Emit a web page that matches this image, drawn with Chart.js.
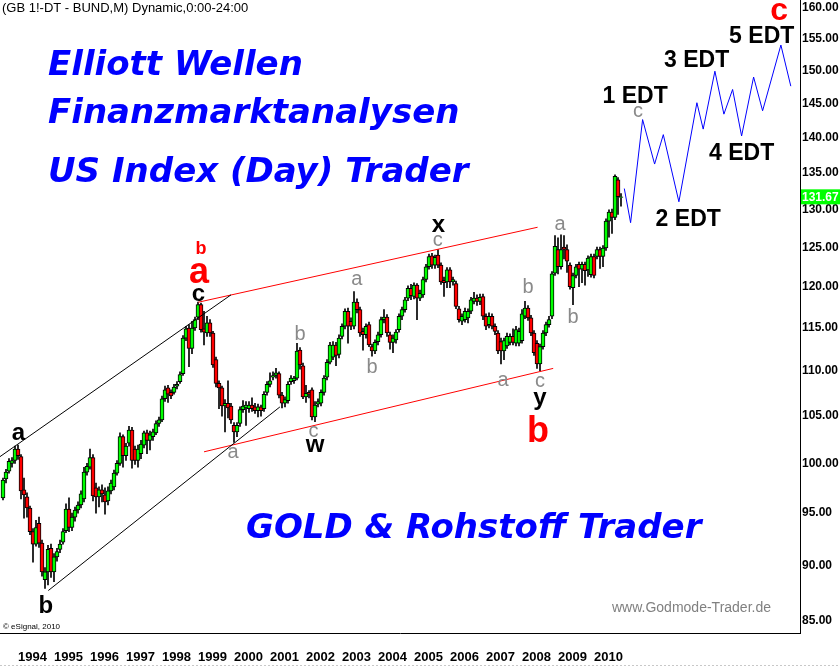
<!DOCTYPE html>
<html>
<head>
<meta charset="utf-8">
<title>Bund monthly - Elliott Wellen</title>
<script src="https://cdn.jsdelivr.net/npm/chart.js@4.4.1/dist/chart.umd.min.js"></script>
<style>
    html, body { margin: 0; padding: 0; background: #fff; }
    #wrap { width: 840px; height: 666px; }
</style>
</head>
<body>
<div id="wrap"><canvas id="bundChart" width="840" height="666"></canvas></div>
<script>
// months are counted from Jan 1993, first candle = Aug 1993
const firstMonth = 7;

const opens = [
    96.5, 98.4, 99.2, 100.0, 100.3, 101.5, 100.7, 97.3, 96.6, 95.5, 93.2, 92.0,
    94.0, 92.1, 88.7, 89.4, 91.6, 89.4, 90.8, 91.5, 92.2, 93.3, 95.4, 93.6,
    94.6, 95.3, 95.8, 96.4, 99.1, 99.6, 100.6, 97.5, 96.6, 97.3, 96.8, 96.2,
    97.2, 97.6, 99.0, 100.0, 102.8, 100.8, 102.1, 103.5, 101.5, 100.3, 101.0, 101.9,
    103.2, 102.4, 102.8, 103.2, 104.2, 104.6, 106.9, 108.1, 107.6, 107.6, 108.3, 108.8,
    109.7, 113.8, 115.0, 112.6, 115.0, 116.3, 117.8, 114.9, 114.4, 115.6, 114.4, 111.3,
    108.6, 108.1, 106.1, 106.4, 106.1, 104.0, 103.3, 104.2, 105.7, 105.9, 105.8, 106.2,
    106.0, 105.6, 106.0, 105.8, 107.6, 108.5, 109.3, 109.5, 109.7, 107.3, 106.4, 106.7,
    108.8, 108.9, 109.2, 112.4, 110.6, 107.1, 107.6, 107.9, 104.9, 106.3, 106.4, 107.6,
    109.3, 111.0, 111.6, 113.0, 111.9, 114.0, 115.2, 117.0, 115.8, 115.2, 118.1, 117.2,
    114.6, 114.2, 115.4, 112.8, 112.3, 113.4, 114.2, 116.0, 116.3, 114.2, 113.3, 113.6,
    114.8, 116.4, 117.2, 118.6, 119.8, 118.8, 120.2, 118.6, 119.0, 120.9, 122.5, 123.9,
    122.7, 124.0, 122.7, 120.8, 120.6, 122.1, 120.6, 120.4, 117.3, 115.8, 116.0, 116.2,
    117.0, 118.2, 118.6, 118.2, 118.8, 116.4, 115.4, 116.4, 115.2, 114.4, 113.4, 112.3,
    112.9, 113.3, 114.0, 113.2, 113.2, 113.5, 116.4, 117.4, 116.2, 114.4, 113.2, 110.8,
    112.8, 114.4, 115.4, 116.4, 121.7, 124.7, 122.5, 125.0, 124.7, 122.7, 119.9, 121.4,
    122.8, 122.2, 122.8, 122.1, 121.5, 123.8, 123.8, 124.7, 123.8, 124.9, 128.4, 129.6,
    128.9, 134.0, 131.6
];
const highs = [
    98.5, 99.4, 100.5, 100.6, 101.8, 101.9, 100.9, 98.5, 97.0, 95.7, 93.5, 94.3,
    94.6, 92.4, 89.8, 91.9, 92.0, 91.1, 91.6, 92.4, 93.5, 95.9, 96.5, 95.0,
    95.6, 96.1, 97.2, 99.6, 100.0, 101.5, 100.9, 98.0, 97.6, 97.8, 97.5, 97.6,
    98.3, 99.3, 100.3, 103.2, 103.0, 102.1, 103.9, 103.8, 101.8, 101.9, 102.4, 103.4,
    103.5, 103.4, 103.6, 104.5, 104.9, 107.2, 108.3, 108.4, 107.9, 108.5, 108.8, 109.9,
    114.1, 115.2, 115.4, 115.8, 116.3, 118.1, 118.0, 117.0, 116.4, 116.0, 114.6, 111.6,
    108.9, 108.3, 106.8, 108.9, 106.4, 104.3, 104.3, 106.0, 106.7, 106.6, 106.6, 107.0,
    106.4, 106.3, 106.2, 107.7, 108.8, 109.8, 109.9, 110.3, 109.9, 107.6, 107.1, 108.8,
    109.5, 109.4, 113.2, 112.7, 110.9, 108.4, 107.8, 108.1, 106.6, 106.9, 107.9, 109.5,
    111.3, 113.3, 113.4, 113.3, 114.2, 115.5, 117.3, 117.4, 116.2, 119.4, 118.5, 117.5,
    115.0, 115.5, 115.7, 113.1, 113.6, 114.5, 116.3, 117.2, 116.6, 114.5, 114.2, 114.8,
    116.7, 117.5, 118.7, 120.1, 120.3, 120.5, 120.4, 119.6, 121.2, 122.8, 124.1, 124.2,
    124.0, 124.7, 123.0, 121.2, 122.4, 122.4, 121.2, 120.7, 117.6, 116.7, 117.4, 117.3,
    118.7, 119.3, 119.0, 119.1, 119.1, 116.7, 116.8, 116.7, 115.5, 114.7, 113.8, 113.8,
    114.4, 114.3, 114.9, 115.2, 115.0, 117.2, 118.2, 117.7, 116.5, 114.7, 113.5, 113.1,
    114.7, 115.7, 116.4, 121.9, 126.5, 126.2, 126.6, 126.5, 125.3, 123.0, 121.7, 122.8,
    123.1, 123.1, 123.1, 123.9, 124.1, 124.1, 125.0, 125.0, 125.2, 128.7, 129.9, 130.0,
    134.7, 134.3, 132.1
];
const lows = [
    96.3, 98.0, 99.0, 99.6, 100.0, 100.4, 96.4, 94.5, 94.6, 92.9, 90.3, 91.8,
    91.7, 89.0, 87.9, 88.2, 88.9, 88.5, 90.4, 91.2, 92.0, 93.1, 93.2, 93.3,
    94.2, 95.0, 95.5, 96.1, 98.8, 99.4, 96.2, 95.0, 95.6, 96.1, 94.9, 95.8,
    96.9, 97.3, 98.8, 99.8, 99.6, 100.3, 101.8, 99.5, 99.9, 99.6, 100.5, 101.6,
    101.0, 101.4, 102.4, 103.0, 103.9, 104.4, 106.6, 106.5, 106.9, 107.4, 108.0, 108.6,
    109.5, 113.5, 110.5, 112.0, 114.7, 116.0, 114.5, 113.0, 114.0, 114.0, 110.4, 108.2,
    105.8, 105.0, 103.3, 104.8, 104.2, 102.2, 102.8, 103.9, 105.4, 104.0, 105.4, 105.5,
    105.3, 104.9, 105.0, 105.5, 107.3, 108.2, 109.0, 109.2, 107.0, 105.9, 106.0, 106.4,
    108.5, 108.6, 109.0, 110.2, 106.9, 106.5, 107.0, 104.6, 104.4, 106.0, 106.1, 107.3,
    109.0, 110.8, 111.3, 110.6, 111.5, 113.7, 114.9, 113.2, 114.8, 114.9, 116.8, 114.0,
    112.4, 113.8, 112.8, 111.7, 112.0, 113.0, 113.9, 115.6, 114.0, 112.5, 112.1, 113.2,
    114.5, 116.0, 116.9, 118.3, 118.4, 118.5, 116.0, 118.3, 118.7, 120.6, 122.2, 122.3,
    122.3, 122.4, 120.3, 118.8, 119.9, 119.9, 120.2, 117.3, 115.7, 115.4, 115.7, 115.6,
    116.7, 117.9, 117.7, 117.8, 116.0, 114.8, 115.0, 114.9, 114.2, 112.0, 110.8, 111.3,
    112.6, 113.0, 113.0, 112.9, 112.9, 113.2, 116.1, 115.9, 114.1, 111.8, 110.3, 110.0,
    112.5, 114.1, 115.1, 116.1, 121.4, 121.6, 122.2, 123.5, 121.8, 119.7, 117.8, 121.1,
    120.0, 120.5, 120.2, 121.3, 121.2, 121.1, 123.5, 122.3, 122.5, 124.6, 126.3, 126.8,
    128.6, 129.3, 130.4
];
const closes = [
    98.3, 99.1, 100.2, 100.3, 101.5, 100.8, 97.2, 96.8, 95.5, 93.2, 92.0, 93.6,
    92.1, 89.4, 89.4, 91.5, 89.4, 90.8, 91.3, 92.0, 93.2, 95.4, 93.6, 94.6,
    95.3, 95.8, 96.9, 99.1, 99.7, 100.6, 96.7, 96.6, 97.3, 96.9, 96.1, 97.2,
    98.0, 99.0, 100.0, 102.8, 100.8, 101.8, 103.5, 100.3, 100.3, 101.5, 102.0, 103.2,
    102.4, 103.0, 103.3, 104.2, 104.6, 106.9, 107.9, 107.4, 107.2, 108.2, 108.5, 109.6,
    113.8, 114.9, 112.6, 115.0, 116.0, 117.8, 114.8, 114.5, 115.6, 114.4, 110.7, 108.6,
    108.1, 106.1, 106.4, 105.9, 104.6, 103.3, 104.0, 105.7, 106.1, 106.2, 106.2, 105.8,
    105.6, 106.0, 105.6, 107.4, 108.5, 108.9, 109.5, 109.8, 107.3, 106.4, 106.8, 108.5,
    109.2, 109.2, 112.3, 110.7, 107.1, 107.5, 107.4, 104.9, 106.2, 106.6, 107.6, 109.2,
    111.0, 113.0, 113.0, 111.8, 113.8, 115.2, 117.0, 115.2, 115.2, 118.1, 117.2, 114.4,
    114.2, 115.2, 113.0, 112.3, 113.3, 114.2, 116.0, 116.3, 114.4, 113.3, 113.8, 114.5,
    116.4, 117.2, 118.4, 119.8, 118.9, 120.2, 118.6, 119.2, 120.9, 122.5, 123.8, 122.7,
    123.7, 122.7, 120.6, 120.5, 122.1, 120.6, 120.9, 117.6, 116.0, 116.4, 117.0, 117.0,
    118.4, 118.6, 118.2, 118.7, 116.4, 115.2, 116.4, 115.2, 114.6, 112.3, 112.3, 113.5,
    114.0, 114.0, 113.3, 114.8, 114.6, 116.7, 117.4, 116.2, 114.4, 112.1, 110.8, 112.8,
    114.4, 115.4, 116.0, 121.6, 125.1, 122.5, 124.7, 124.7, 123.2, 120.0, 121.4, 122.5,
    122.2, 122.8, 122.0, 123.6, 123.8, 121.4, 124.7, 123.8, 124.9, 128.4, 129.6, 128.9,
    134.5, 131.7, 131.67
];

const yearLabels = ['1994', '1995', '1996', '1997', '1998', '1999', '2000', '2001', '2002',
    '2003', '2004', '2005', '2006', '2007', '2008', '2009', '2010'];
const priceTicks = [85, 90, 95, 100, 105, 110, 115, 120, 125, 130, 135, 140, 145, 150, 155, 160];
const lastPrice = 131.67;

// projected EDT zigzag
const edtMonths = [214.1, 216.2, 220.2, 224.2, 227.1, 232.3, 238.3, 240.4, 244.3, 247.3, 250.2, 253.2, 257.2, 260.2, 266.3, 269.6];
const edtPrices = [132.8, 128.2, 142.6, 136.2, 140.4, 131.0, 145.1, 141.2, 149.9, 143.4, 147.1, 140.2, 149.0, 143.9, 154.0, 147.6];

// trend channels: start month, start price, end month, end price
const blackUpper = [6, 100.7, 83, 119.0];
const blackLower = [22.1, 87.7, 99.3, 106.0];
const redUpper = [72.1, 118.1, 185.2, 127.6];
const redLower = [74, 101.2, 190.4, 110.3];

// wave counts: text, month, price (baseline), style
const waveLabels = [
    ['a', 12.1, 102.4, 'black'],
    ['b', 21.3, 85.7, 'black'],
    ['c', 72.1, 118.3, 'black'],
    ['a', 72.3, 120.5, 'redBig'],
    ['b', 73.0, 124.1, 'redSmall'],
    ['a', 83.7, 100.6, 'gray'],
    ['b', 106.0, 113.6, 'gray'],
    ['c', 110.5, 102.8, 'gray'],
    ['w', 111.0, 101.2, 'black'],
    ['a', 124.9, 120.2, 'gray'],
    ['b', 130.0, 109.8, 'gray'],
    ['x', 152.1, 127.0, 'black'],
    ['c', 151.9, 125.1, 'gray'],
    ['a', 173.7, 108.3, 'gray'],
    ['b', 182.0, 119.2, 'gray'],
    ['c', 186.0, 108.2, 'gray'],
    ['y', 186.0, 106.2, 'black'],
    ['b', 185.3, 102.2, 'redBig'],
    ['a', 192.7, 127.2, 'gray'],
    ['b', 197.0, 115.6, 'gray'],
    ['c', 218.7, 143.0, 'gray'],
    ['c', 265.7, 158.0, 'redTop'],
    ['1 EDT', 217.7, 145.0, 'edt'],
    ['2 EDT', 235.4, 127.7, 'edt'],
    ['3 EDT', 238.2, 150.6, 'edt'],
    ['4 EDT', 253.2, 136.8, 'edt'],
    ['5 EDT', 259.9, 154.3, 'edt']
];

const labelStyles = {
    black: { font: 'bold 24px Arial, "Liberation Sans"', color: '#000' },
    gray: { font: '20px Arial, "Liberation Sans"', color: '#8a8a8a' },
    redBig: { font: 'bold 36px Arial, "Liberation Sans"', color: '#ff0000' },
    redSmall: { font: 'bold 18px Arial, "Liberation Sans"', color: '#ff0000' },
    redTop: { font: 'bold 32px Arial, "Liberation Sans"', color: '#ff0000' },
    edt: { font: 'bold 23px Arial, "Liberation Sans"', color: '#000' }
};

const bannerFont = 'italic bold 34px "DejaVu Sans"';
const banners = [
    ['Elliott Wellen', 48, 75],
    ['Finanzmarktanalysen', 48, 123],
    ['US Index (Day) Trader', 48, 182],
    ['GOLD & Rohstoff Trader', 246, 538]
];

function segment(line, color) {
    return {
        type: 'line',
        data: [{ x: line[0], y: line[1] }, { x: line[2], y: line[3] }],
        borderColor: color,
        borderWidth: 1,
        pointRadius: 0,
        fill: false,
        order: 0
    };
}

const overlayPlugin = {
    id: 'overlay',
    afterDatasetsDraw(chart) {
        const { ctx, scales: { x, y } } = chart;
        ctx.save();
        ctx.textBaseline = 'alphabetic';

        ctx.font = bannerFont;
        ctx.fillStyle = '#0000ff';
        ctx.textAlign = 'left';
        banners.forEach(([text, px, py]) => ctx.fillText(text, px, py));

        ctx.textAlign = 'center';
        waveLabels.forEach(([text, month, price, kind]) => {
            const st = labelStyles[kind];
            ctx.font = st.font;
            ctx.fillStyle = st.color;
            ctx.fillText(text, x.getPixelForValue(month), y.getPixelForValue(price));
        });
        ctx.restore();
    },
    afterDraw(chart) {
        const { ctx, scales: { y } } = chart;
        ctx.save();
        ctx.textAlign = 'left';
        ctx.textBaseline = 'alphabetic';
        ctx.fillStyle = '#000';
        ctx.font = '13px Arial, "Liberation Sans"';
        ctx.fillText('(GB 1!-DT - BUND,M) Dynamic,0:00-24:00', 2, 12);

        ctx.font = '8px Arial, "Liberation Sans"';
        ctx.fillText('\u00a9 eSignal, 2010', 3, 629);

        ctx.fillStyle = '#808080';
        ctx.font = '14px Arial, "Liberation Sans"';
        ctx.fillText('www.Godmode-Trader.de', 612, 612);

        // last price tag on the axis
        const py = y.getPixelForValue(lastPrice);
        ctx.fillStyle = '#00ff00';
        ctx.fillRect(801, py - 7.5, 39, 15);
        ctx.fillStyle = '#fff';
        ctx.font = 'bold 12px Arial, "Liberation Sans"';
        ctx.textBaseline = 'middle';
        ctx.fillText(lastPrice.toFixed(2), 802, py + 0.5);

        // dotted rule under the time axis
        ctx.strokeStyle = '#c8c8c8';
        ctx.setLineDash([2, 2]);
        ctx.lineWidth = 1;
        ctx.beginPath();
        ctx.moveTo(0, 665.5);
        ctx.lineTo(840, 665.5);
        ctx.stroke();
        ctx.restore();
    }
};

document.addEventListener('DOMContentLoaded', () => {
    const ctx = document.getElementById('bundChart').getContext('2d');
    const candleColors = closes.map((c, i) => c >= opens[i] ? '#00ff00' : '#ff0000');

    new Chart(ctx, {
        type: 'bar',
        data: {
            datasets: [
                {
                    label: 'body',
                    data: opens.map((o, i) => ({ x: firstMonth + i, y: [o, closes[i]] })),
                    backgroundColor: candleColors,
                    borderColor: '#000',
                    borderWidth: 1,
                    borderSkipped: false,
                    barThickness: 4,
                    grouped: false,
                    order: 1
                },
                {
                    label: 'wick',
                    data: highs.map((h, i) => ({ x: firstMonth + i, y: [lows[i], h] })),
                    backgroundColor: '#000',
                    borderWidth: 0,
                    barThickness: 1,
                    grouped: false,
                    order: 2
                },
                segment(blackUpper, '#000'),
                segment(blackLower, '#000'),
                segment(redUpper, '#ff0000'),
                segment(redLower, '#ff0000'),
                {
                    type: 'line',
                    label: 'EDT',
                    data: edtMonths.map((m, i) => ({ x: m, y: edtPrices[i] })),
                    borderColor: '#0000ff',
                    borderWidth: 1,
                    pointRadius: 0,
                    fill: false,
                    order: 0
                }
            ]
        },
        options: {
            responsive: false,
            animation: false,
            events: [],
            layout: { padding: 0 },
            plugins: {
                legend: { display: false },
                tooltip: { enabled: false }
            },
            scales: {
                x: {
                    type: 'linear',
                    min: 6,
                    max: 6 + 800 / 3,
                    offset: false,
                    grid: { display: false, drawTicks: false },
                    border: { display: true, color: '#000', width: 1 },
                    ticks: {
                        autoSkip: false,
                        maxRotation: 0,
                        align: 'start',
                        padding: 17,
                        color: '#000',
                        font: { family: 'Arial, "Liberation Sans"', size: 13, weight: 'bold' },
                        callback: (v, i) => yearLabels[i]
                    },
                    afterBuildTicks: s => { s.ticks = yearLabels.map(l => ({ value: (Number(l) - 1993) * 12 })); },
                    afterFit: s => { s.height = 33; s.paddingLeft = 0; s.paddingRight = 0; }
                },
                y: {
                    type: 'logarithmic',
                    position: 'right',
                    min: 83.94,
                    max: 161.33,
                    grid: { display: false, drawTicks: false },
                    border: { display: true, color: '#000', width: 1 },
                    ticks: {
                        autoSkip: false,
                        padding: 2,
                        color: '#000',
                        font: { family: 'Arial, "Liberation Sans"', size: 12, weight: 'bold' },
                        callback: v => Number(v).toFixed(2)
                    },
                    afterBuildTicks: s => { s.ticks = priceTicks.map(v => ({ value: v })); },
                    afterFit: s => { s.width = 40; s.paddingTop = 0; s.paddingBottom = 0; }
                }
            }
        },
        plugins: [overlayPlugin]
    });
});
</script>
</body>
</html>
